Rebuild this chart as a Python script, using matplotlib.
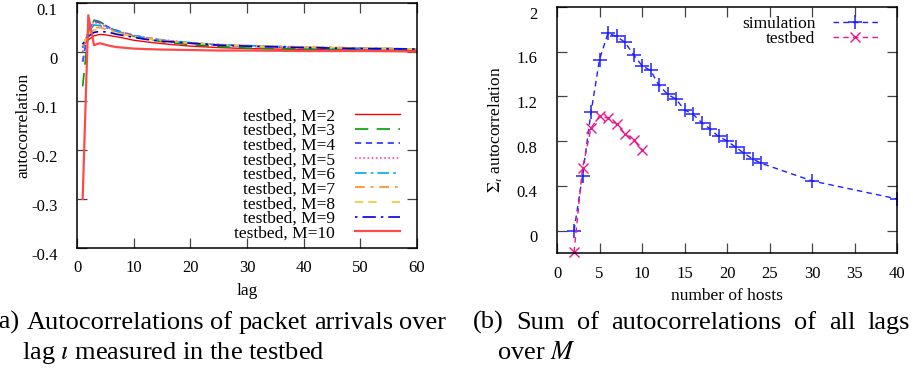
import matplotlib
matplotlib.use("Agg")
import matplotlib.pyplot as plt
from matplotlib.transforms import ScaledTranslation

plt.rcParams['font.family'] = ['Liberation Serif', 'DejaVu Serif']
plt.rcParams['mathtext.fontset'] = 'stix'
plt.rcParams['axes.unicode_minus'] = False

# ---------------- data: panel (a) ----------------
lags = [1, 2, 3, 4, 5, 6, 7, 8, 10, 12, 15, 20, 25, 30, 40, 50, 60]
acf_m2 = [0.011, 0.025, 0.033, 0.036, 0.035, 0.033, 0.031, 0.029, 0.024, 0.021, 0.017, 0.012, 0.009, 0.007, 0.005, 0.004, 0.003]
acf_m3 = [-0.070, 0.040, 0.065, 0.062, 0.055, 0.048, 0.043, 0.039, 0.032, 0.027, 0.021, 0.015, 0.011, 0.008, 0.006, 0.004, 0.003]
acf_m4 = [-0.020, 0.045, 0.063, 0.060, 0.054, 0.048, 0.044, 0.040, 0.034, 0.029, 0.024, 0.018, 0.014, 0.012, 0.009, 0.007, 0.006]
acf_m5 = [0.000, 0.045, 0.060, 0.058, 0.052, 0.047, 0.043, 0.040, 0.034, 0.030, 0.025, 0.019, 0.015, 0.013, 0.010, 0.008, 0.006]
acf_m6 = [0.008, 0.042, 0.055, 0.054, 0.050, 0.046, 0.042, 0.039, 0.033, 0.029, 0.024, 0.019, 0.015, 0.013, 0.010, 0.008, 0.006]
acf_m7 = [0.012, 0.038, 0.050, 0.050, 0.047, 0.044, 0.040, 0.037, 0.032, 0.028, 0.024, 0.018, 0.015, 0.013, 0.010, 0.008, 0.006]
acf_m8 = [0.014, 0.035, 0.045, 0.046, 0.044, 0.041, 0.038, 0.036, 0.031, 0.027, 0.023, 0.018, 0.015, 0.012, 0.010, 0.008, 0.006]
acf_m9 = [0.016, 0.032, 0.040, 0.042, 0.041, 0.039, 0.036, 0.034, 0.030, 0.026, 0.022, 0.018, 0.014, 0.012, 0.009, 0.007, 0.006]
acf_m10 = [-0.300, 0.075, 0.014, 0.018, 0.015, 0.012, 0.010, 0.009, 0.007, 0.006, 0.005, 0.004, 0.003, 0.003, 0.002, 0.002, 0.001]
series_labels = ["testbed, M=2", "testbed, M=3", "testbed, M=4", "testbed, M=5", "testbed, M=6",
                 "testbed, M=7", "testbed, M=8", "testbed, M=9", "testbed, M=10"]
a_xticks = [0, 10, 20, 30, 40, 50, 60]
a_yticks = [-0.4, -0.3, -0.2, -0.1, 0, 0.1]
a_yticklabels = ["-0.4", "-0.3", "-0.2", "-0.1", "0", "0.1"]

# ---------------- data: panel (b) ----------------
sim_hosts = [2, 3, 4, 5, 6, 7, 8, 9, 10, 11, 12, 13, 14, 15, 16, 17, 18, 19, 20, 21, 22, 23, 24, 30, 40]
sim_sum = [0.0, 0.49, 1.057, 1.53, 1.767, 1.737, 1.684, 1.573, 1.475, 1.433, 1.30, 1.22, 1.176, 1.08,
           1.042, 0.967, 0.91, 0.842, 0.803, 0.746, 0.693, 0.642, 0.603, 0.445, 0.284]
tb_hosts = [2, 3, 4, 5, 6, 7, 8, 9, 10]
tb_sum = [-0.194, 0.558, 0.916, 1.027, 1.006, 0.952, 0.866, 0.812, 0.722]
b_xticks = [0, 5, 10, 15, 20, 25, 30, 35, 40]
b_yticks = [0, 0.4, 0.8, 1.2, 1.6, 2.0]
b_yticklabels = ["0", "0.4", "0.8", "1.2", "1.6", "2"]

W, H = 913, 383
fig = plt.figure(figsize=(W / 100, H / 100), dpi=100)


def px_axes(x0, y0, x1, y1):
    return fig.add_axes([x0 / W, 1 - y1 / H, (x1 - x0) / W, (y1 - y0) / H])


def style_axes(ax):
    ax.tick_params(direction='in', length=7, width=0.9, top=True, right=True,
                   labelsize=12, color='#444444')
    ax.tick_params(axis='x', pad=9)
    ax.tick_params(axis='y', pad=14)
    for s in ax.spines.values():
        s.set_linewidth(1.1)
    off = ScaledTranslation(0, -4 / 72, fig.dpi_scale_trans)
    for lab in ax.get_yticklabels():
        lab.set_transform(lab.get_transform() + off)


# ---------------- panel (a) ----------------
axa = px_axes(77, 3, 417, 248)
series = [acf_m2, acf_m3, acf_m4, acf_m5, acf_m6, acf_m7, acf_m8, acf_m9, acf_m10]
styles = [
    dict(color='#ff0000', lw=1.0, ls='-'),
    dict(color='#00a000', lw=1.2, ls=(0, (8, 5))),
    dict(color='#4a4aff', lw=1.4, ls=(0, (3.2, 2.4))),
    dict(color='#ff40c0', lw=1.2, ls=(0, (1, 1.5))),
    dict(color='#00a8ee', lw=1.2, ls=(0, (7, 2.5, 1.5, 2.5))),
    dict(color='#ff9a40', lw=1.4, ls=(0, (5, 3, 1.5, 3))),
    dict(color='#f0c830', lw=1.2, ls=(0, (5, 3, 5, 9))),
    dict(color='#0000d8', lw=1.2, ls=(0, (1.5, 3, 8, 3))),
    dict(color='#ff4a4a', lw=1.6, ls='-'),
]
for vals, lab, st in zip(series, series_labels, styles):
    axa.plot(lags, vals, label=lab, **st)
axa.set_xlim(0, 60)
axa.set_ylim(-0.4, 0.1)
axa.set_xticks(a_xticks)
axa.set_yticks(a_yticks, labels=a_yticklabels)
style_axes(axa)
axa.set_xlabel("lag", fontsize=12.5, labelpad=5)
axa.set_ylabel("autocorrelation", fontsize=12.5, labelpad=0)
axa.legend(loc='upper right', bbox_to_anchor=((400 - 77) / 340, (248 - 108) / 245),
           frameon=False, markerfirst=False, fontsize=12.5, handlelength=2.6,
           handletextpad=1.15, labelspacing=-0.085, borderpad=0, borderaxespad=0)

# ---------------- panel (b) ----------------
axb = px_axes(557, 7, 897, 253)
axb.plot(sim_hosts, sim_sum, color='#2020ff', lw=1.0, ls=(0, (4, 3)), marker='+',
         ms=10, mew=1.1, label='simulation')
axb.plot(tb_hosts, tb_sum, color='#e8198b', lw=1.0, ls=(0, (4, 3)), marker='x',
         ms=7, mew=1.0, label='testbed', clip_on=False)
axb.set_xlim(0, 40)
axb.set_ylim(-0.2, 2.0)
axb.set_xticks(b_xticks)
axb.set_yticks(b_yticks, labels=b_yticklabels)
style_axes(axb)
axb.set_xlabel("number of hosts", fontsize=12.5, labelpad=5)
axb.set_ylabel(r"$\Sigma_\iota$ autocorrelation", fontsize=12.5, labelpad=8)
axb.legend(loc='upper right', bbox_to_anchor=((878 - 557) / 340, (253 - 16) / 246),
           frameon=False, markerfirst=False, fontsize=12.5, handlelength=2.6,
           handletextpad=1.0, labelspacing=-0.08, borderpad=0, borderaxespad=0,
           numpoints=1)

# ---------------- captions ----------------
cap_size = 19
renderer = fig.canvas.get_renderer()


def justify(words, x0, x1, ybase):
    texts = [fig.text(0, 0, w, fontsize=cap_size, va='baseline', ha='left') for w in words]
    widths = [t.get_window_extent(renderer).width for t in texts]
    gap = (x1 - x0 - sum(widths)) / (len(words) - 1)
    x = x0
    for t, w in zip(texts, widths):
        t.set_position((x / W, 1 - ybase / H))
        x += w + gap


justify(["(a)", "Autocorrelations", "of", "packet", "arrivals", "over"], -9, 446, 329)
fig.text(22 / W, 1 - 359 / H, r"lag $\iota$ measured in the testbed", fontsize=cap_size,
         va='baseline', ha='left')
justify(["(b)", "Sum", "of", "autocorrelations", "of", "all", "lags"], 473, 910, 329)
fig.text(497 / W, 1 - 359 / H, r"over $M$", fontsize=cap_size, va='baseline', ha='left')

fig.savefig("out.png", dpi=100)
